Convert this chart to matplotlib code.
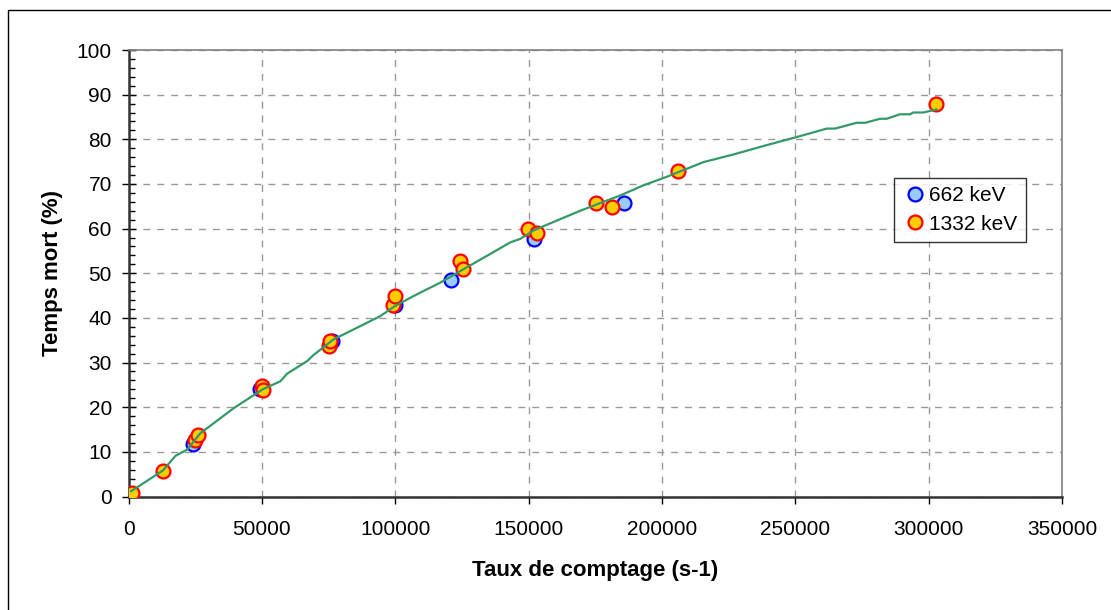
import numpy as np
import matplotlib
matplotlib.use("Agg")
import matplotlib.pyplot as plt
from matplotlib.patches import Rectangle
from matplotlib.ticker import MultipleLocator

plt.rcParams['font.family'] = ['Liberation Sans', 'DejaVu Sans']

# 662 keV mesures
x_662 = [700, 24200, 49200, 76300, 100000, 121000, 152200, 185800]
y_662 = [0.0, 11.8, 24.0, 34.8, 42.9, 48.6, 57.6, 65.8]

# 1332 keV mesures
x_1332 = [1400, 12900, 25100, 26100, 50000, 50300, 75200, 75600, 99300, 99900,
          124400, 125300, 149900, 153100, 175300, 181300, 206000, 302700]
y_1332 = [0.7, 5.6, 12.6, 13.7, 24.8, 23.9, 33.8, 34.9, 43.0, 44.8,
          52.8, 51.0, 59.9, 59.1, 65.8, 64.9, 73.0, 87.9]

# courbe d'ajustement
x_fit = [1000, 12850, 17600, 22000, 27000, 39500, 50300, 56950, 59450, 66950,
         69400, 76900, 85700, 94400, 100000, 108200, 116900, 125600, 134400,
         143100, 146900, 151900, 160600, 169400, 176800, 184300, 193100,
         201800, 215600, 226800, 239300, 250500, 261800, 264900, 273000,
         276200, 281800, 284300, 289200, 293000, 294200, 298000, 303000]
y_fit = [1.2, 5.8, 9.1, 10.5, 14.2, 19.8, 24.0, 25.8, 27.5, 30.3,
         31.7, 35.2, 37.8, 40.4, 42.7, 45.3, 47.9, 50.9, 53.9,
         56.9, 57.7, 59.6, 61.8, 64.0, 65.7, 67.4, 69.7,
         71.6, 74.9, 76.6, 78.7, 80.5, 82.4, 82.4, 83.7,
         83.7, 84.6, 84.6, 85.6, 85.6, 86.0, 86.0, 86.7]

fig = plt.figure(figsize=(11.11, 6.10), dpi=100)
ax = fig.add_axes([128.5 / 1111, 1 - 496.5 / 610, (1062 - 128.5) / 1111, (496.5 - 50) / 610])

# cadre exterieur
fig.patches.append(Rectangle((8 / 1111, -0.1), 1.2, 1 - 10 / 610 + 0.1, transform=fig.transFigure,
                             fill=False, edgecolor='black', linewidth=1, clip_on=False))

ax.grid(True, color='#999999', linestyle=(0, (5, 5)), linewidth=1)
ax.set_axisbelow(True)

ax.plot(x_662, y_662, 'o', markersize=10, markerfacecolor='#99CCFF',
        markeredgecolor='#0000FF', markeredgewidth=1.6, label='662 keV', zorder=3)
ax.plot(x_1332, y_1332, 'o', markersize=10, markerfacecolor='#FFCC00',
        markeredgecolor='#FF0000', markeredgewidth=1.6, label='1332 keV', zorder=4)
ax.plot(x_fit, y_fit, color='#339966', linewidth=1.6, zorder=5)

ax.set_xlim(0, 350000)
ax.set_ylim(0, 100)
ax.xaxis.set_major_locator(MultipleLocator(50000))
ax.yaxis.set_major_locator(MultipleLocator(10))
ax.yaxis.set_minor_locator(MultipleLocator(2))

ax.tick_params(axis='x', which='major', direction='out', length=5, width=1, labelsize=15, pad=12)
ax.tick_params(axis='y', which='major', direction='inout', length=10, width=1, labelsize=15, pad=7)
ax.tick_params(axis='y', which='minor', direction='in', length=4, width=1)

for s in ['top', 'right']:
    ax.spines[s].set_color('#808080')
    ax.spines[s].set_linewidth(1.2)
for s in ['bottom', 'left']:
    ax.spines[s].set_color('#333333')
    ax.spines[s].set_linewidth(1.8)

ax.set_xlabel('Taux de comptage (s-1)', fontsize=16, fontweight='bold', labelpad=15)
ax.set_ylabel('Temps mort (%)', fontsize=16, fontweight='bold', labelpad=10)

leg = ax.legend(loc='upper left', bbox_to_anchor=(894 / 1111, 1 - 178 / 610), bbox_transform=fig.transFigure,
                fontsize=15, frameon=True, fancybox=False, borderaxespad=0, handletextpad=0.1,
                handlelength=1.2, borderpad=0.4, labelspacing=0.45)
leg.get_frame().set_edgecolor('black')
leg.get_frame().set_linewidth(1)

plt.savefig('out.png', dpi=100)
